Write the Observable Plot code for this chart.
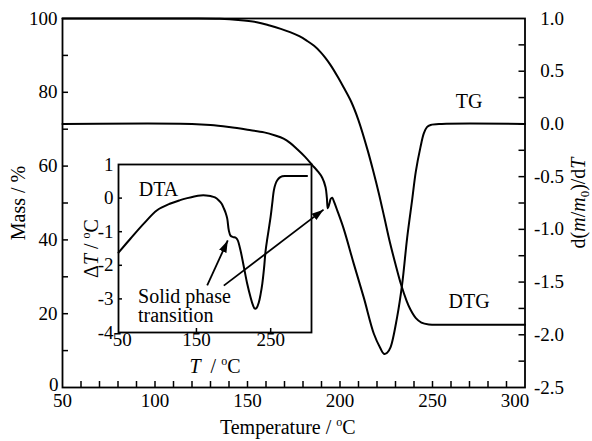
<!DOCTYPE html>
<html><head><meta charset="utf-8">
<script src="https://cdn.jsdelivr.net/npm/d3@7"></script>
<script src="https://cdn.jsdelivr.net/npm/@observablehq/plot@0.6"></script>
<style>
html,body{margin:0;padding:0;background:#fff;}
#chart{position:relative;width:592px;height:441px;}
#chart svg{position:absolute;left:0;top:0;}
</style></head><body><div id="chart"></div>
<script>
// ---- data ----
const tgT    = [50,120,135,145,155,162,168,173,178,182,186,189.5,192,195,199,202,206,210,215,218,221,224,227,230,233,236,238,241,244,248,255,300];
const tgMass = [100,100,99.9,99.6,99.0,98.1,97.2,96.3,95.2,94.0,92.6,90.9,89.4,87.3,84.0,81.3,77.5,72.4,64.2,58.6,52.6,46.0,39.3,33.4,27.9,23.5,21.2,18.8,17.6,17.1,17,17];

const dtgT   = [50,120,130,140,150,159,165,169.5,173,176.9,181,185,188,190.4,192.2,192.9,193.4,194.2,195,195.8,196.8,198.5,202.1,207.5,212.9,218.3,221.9,223.7,225.5,227.3,230.9,233.6,236.3,239,241,243.5,245.3,247,249,255,300];
const dtgVal = [0,0,-0.01,-0.03,-0.055,-0.08,-0.11,-0.14,-0.18,-0.24,-0.31,-0.39,-0.45,-0.51,-0.60,-0.70,-0.80,-0.76,-0.71,-0.70,-0.74,-0.82,-1.0,-1.33,-1.65,-1.99,-2.13,-2.18,-2.17,-2.12,-1.83,-1.52,-1.08,-0.72,-0.45,-0.22,-0.09,-0.03,-0.01,0,0];

const dtaT   = [45,61,79,97,115,128,137.6,147,155.5,163,169,175,180.2,184,187,189.5,191.5,193.6,196,199.6,203,205.5,209.4,213.9,218.4,222.9,226,228.7,231,234.1,236.5,238.7,241,243.2,245.5,247.6,249.9,252,254.3,256.5,258.9,262,265.6,270,276.8,299];
const dtaVal = [-1.62,-1.21,-0.76,-0.36,-0.16,-0.06,0.0,0.05,0.08,0.08,0.06,0.02,-0.07,-0.17,-0.31,-0.45,-0.61,-0.96,-1.12,-1.16,-1.18,-1.25,-1.56,-2.05,-2.55,-2.95,-3.18,-3.29,-3.27,-3.10,-2.85,-2.55,-2.1,-1.56,-1.2,-0.9,-0.56,-0.18,0.23,0.42,0.53,0.61,0.65,0.66,0.66,0.66];

const xTickLabels   = [50,100,150,200,250,300];
const xMinorTicks   = [60,70,80,90,100,110,120,130,140,150,160,170,180,190,200,210,220,230,240,250,260,270,280,290];
const massTickLabels = [0,20,40,60,80,100];
const massMinorTicks = [10,20,30,40,50,60,70,80,90];
const dtgTickLabels = [1.0,0.5,0.0,-0.5,-1.0,-1.5,-2.0,-2.5];
const dtgMinorTicks = [0.75,0.5,0.25,0,-0.25,-0.5,-0.75,-1,-1.25,-1.5,-1.75,-2,-2.25];
const dtaTickLabels = [1,0,-1,-2,-3,-4];
const dtaMinorTicks = [0,-1,-2,-3];
const dtaXTickLabels = [50,150,250];
const dtaXTicks = [150,250];

const curveLabels = [{t:269.8, v:77.6, s:"TG"}, {t:269.8, v:23.4, s:"DTG"}];
const insetTitle = [{t:98.9, v:0.26, s:"DTA"}];
const insetNotes = [{t:71.3, v:-2.93, s:"Solid phase"}, {t:71.3, v:-3.49, s:"transition"}];
const arrowInset = [{t1:164.5, v1:-2.60, t2:192.2, v2:-1.26}];
const arrowMain  = [{t1:137.2, v1:27.6, t2:191.1, v2:48.2}];

// ---- layout ----
const W = 592, H = 441;
const font = "'Liberation Serif','Times New Roman',serif";
const L = 62, R = 524.5, T = 18, B = 387;
const pw = R - L, ph = B - T;
const mainMargins = {marginLeft: L, marginRight: W - R, marginTop: T, marginBottom: H - B};
const style = {background: "transparent", fontFamily: font, fontSize: "19px", color: "black", overflow: "visible"};

const tg  = tgT.map((t, i) => ({t, v: tgMass[i]}));
const dtg = dtgT.map((t, i) => ({t, v: dtgVal[i]}));
const dta = dtaT.map((t, i) => ({t, v: dtaVal[i]}));

const mainPlot = Plot.plot({
  width: W, height: H, ...mainMargins, style,
  x: {domain: [50, 300], axis: null},
  y: {domain: [0, 100], axis: null},
  marks: [
    Plot.frame({stroke: "black", strokeWidth: 1.8}),
    Plot.ruleX(xMinorTicks, {x: d => d, y1: 100, y2: 0, insetTop: ph - 6, stroke: "black", strokeWidth: 1.5}),
    Plot.ruleY(massMinorTicks, {y: d => d, x1: 50, x2: 300, insetRight: pw - 6, stroke: "black", strokeWidth: 1.5}),
    Plot.line(tg, {x: "t", y: "v", stroke: "black", strokeWidth: 2, curve: "catmull-rom"}),
    Plot.text(xTickLabels.filter(d => d !== 300), {x: d => d, text: d => String(d), frameAnchor: "bottom", dy: 19, textAnchor: "middle", fontSize: 19}),
    Plot.text(xTickLabels.filter(d => d === 300), {x: d => d, text: d => String(d), frameAnchor: "bottom", dy: 19, dx: -10, textAnchor: "middle", fontSize: 19}),
    Plot.text(massTickLabels.filter(d => d !== 0), {y: d => d, text: d => String(d), frameAnchor: "left", dx: -5, textAnchor: "end", fontSize: 19}),
    Plot.text(massTickLabels.filter(d => d === 0), {y: d => d, text: d => String(d), frameAnchor: "left", dx: -4, dy: -3, textAnchor: "end", fontSize: 19}),
    Plot.text(["Temperature / °C"], {text: d => d, frameAnchor: "bottom", dy: 46, dx: -6, textAnchor: "middle", fontSize: 20}),
    Plot.text(["Mass / %"], {text: d => d, frameAnchor: "left", dx: -44, rotate: -90, textAnchor: "middle", fontSize: 20}),
    Plot.text(curveLabels, {x: "t", y: "v", text: "s", fontSize: 20}),
    Plot.link(arrowMain, {x1: "t1", y1: "v1", x2: "t2", y2: "v2", stroke: "black", strokeWidth: 1.8, markerEnd: "arrow"})
  ]
});

const dtgPlot = Plot.plot({
  width: W, height: H, ...mainMargins, style,
  x: {domain: [50, 300], axis: null},
  y: {domain: [-2.5, 1], axis: null},
  marks: [
    Plot.ruleY(dtgMinorTicks, {y: d => d, x1: 50, x2: 300, insetLeft: pw - 6, stroke: "black", strokeWidth: 1.5}),
    Plot.line(dtg, {x: "t", y: "v", stroke: "black", strokeWidth: 2, curve: "catmull-rom"}),
    Plot.text(dtgTickLabels, {y: d => d, text: d => d.toFixed(1), frameAnchor: "right", dx: 39, textAnchor: "end", fontSize: 19}),
    Plot.text(["d(m/m0)/dT"], {text: d => d, frameAnchor: "right", dx: 53.5, rotate: -90, textAnchor: "middle", fontSize: 20})
  ]
});

const iL = 118, iR = 311, iT = 164, iB = 332;
const iw = iR - iL, ih = iB - iT;
const insetPlot = Plot.plot({
  width: W, height: H, marginLeft: iL, marginRight: W - iR, marginTop: iT, marginBottom: H - iB, style,
  x: {domain: [45, 305], axis: null},
  y: {domain: [-4, 1], axis: null},
  marks: [
    Plot.frame({stroke: "black", strokeWidth: 1.8}),
    Plot.ruleX(dtaXTicks, {x: d => d, y1: 1, y2: -4, insetTop: ih - 4, stroke: "black", strokeWidth: 1.5}),
    Plot.ruleY(dtaMinorTicks, {y: d => d, x1: 45, x2: 305, insetRight: iw - 4, stroke: "black", strokeWidth: 1.5}),
    Plot.line(dta, {x: "t", y: "v", stroke: "black", strokeWidth: 2, curve: "catmull-rom"}),
    Plot.text(dtaTickLabels, {y: d => d, text: d => String(d), frameAnchor: "left", dx: -5, textAnchor: "end", fontSize: 19}),
    Plot.text(dtaXTickLabels, {x: d => d, text: d => String(d), frameAnchor: "bottom", dy: 13, textAnchor: "middle", fontSize: 19}),
    Plot.text(["T / °C"], {text: d => d, frameAnchor: "bottom", dy: 40, textAnchor: "middle", fontSize: 20}),
    Plot.text(["ΔT / °C"], {text: d => d, frameAnchor: "left", dx: -27, rotate: -90, textAnchor: "middle", fontSize: 20}),
    Plot.text(insetTitle, {x: "t", y: "v", text: "s", fontSize: 20}),
    Plot.text(insetNotes, {x: "t", y: "v", text: "s", textAnchor: "start", fontSize: 20}),
    Plot.link(arrowInset, {x1: "t1", y1: "v1", x2: "t2", y2: "v2", stroke: "black", strokeWidth: 1.8, markerEnd: "arrow"})
  ]
});

const chart = document.getElementById("chart");
chart.append(mainPlot, dtgPlot, insetPlot);

// rich text (italics, superscripts, subscripts)
const sup = (s) => `<tspan font-size="12" dy="-8">${s}</tspan>`;
function rich(plain, html) {
  d3.selectAll("#chart text").filter(function () { return this.textContent === plain; }).html(html);
}
rich("Temperature / °C", `Temperature / ${sup("o")}<tspan dy="8">C</tspan>`);
rich("T / °C", `<tspan font-style="italic">T</tspan>  / ${sup("o")}<tspan dy="8">C</tspan>`);
rich("ΔT / °C", `Δ<tspan font-style="italic">T</tspan> / ${sup("o")}<tspan dy="8">C</tspan>`);
rich("d(m/m0)/dT", `d(<tspan font-style="italic">m</tspan>/<tspan font-style="italic">m</tspan><tspan font-size="13" dy="4">0</tspan><tspan dy="-4">)/d</tspan><tspan font-style="italic">T</tspan>`);

// filled arrowheads
d3.selectAll("#chart marker").each(function () {
  const m = d3.select(this);
  m.attr("viewBox", "0 -5 12 10").attr("refX", 12).attr("refY", 0)
   .attr("markerWidth", 12).attr("markerHeight", 10).attr("markerUnits", "userSpaceOnUse")
   .attr("fill", "black").attr("stroke", "none");
  m.selectAll("*").remove();
  m.append("path").attr("d", "M0,-4L12,0L0,4Z");
});
</script></body></html>
